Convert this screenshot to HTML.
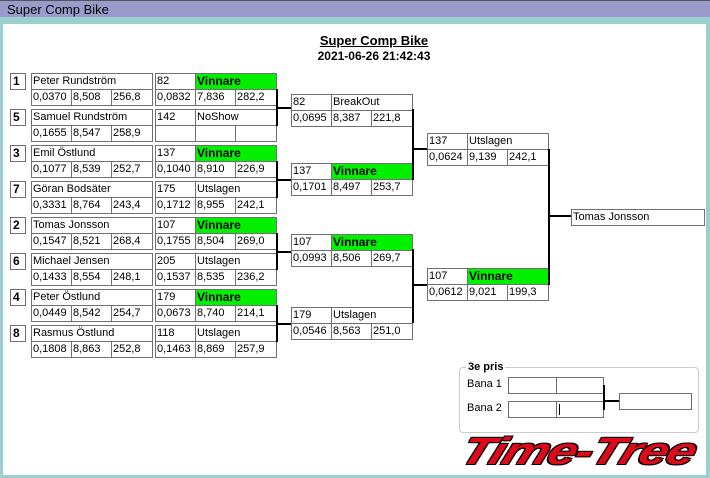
<!DOCTYPE html>
<html><head><meta charset="utf-8"><style>
*{margin:0;padding:0;box-sizing:border-box}
body{width:710px;height:478px;overflow:hidden;background:#9ccfcf;font-family:"Liberation Sans","DejaVu Sans",sans-serif;font-size:11px;position:relative}
.tb{position:absolute;left:0;top:0;width:710px;height:17px;background:#9b9bcb;border-top:1px solid #555;}
.tb span{position:absolute;left:7px;top:1px;font-size:13px;color:#000}
.win{position:absolute;left:3px;top:24px;width:703px;height:451px;background:#fff}
.c{position:absolute;border:1px solid #707070;height:17px;line-height:15px;padding-left:1px;white-space:nowrap;overflow:hidden;background:#fff}
.s{font-weight:bold;font-size:12px;padding-left:2px}
.g{background:#00f000;font-weight:bold;font-size:12px}
.l{position:absolute;background:#000}
</style></head><body>
<div class="tb"><span>Super Comp Bike</span></div>
<div class="win"></div>
<div style="position:absolute;left:274px;width:200px;top:33px;text-align:center;font-weight:bold;font-size:13px;text-decoration:underline">Super Comp Bike</div>
<div style="position:absolute;left:274px;width:200px;top:49px;text-align:center;font-weight:bold;font-size:12px">2021-06-26 21:42:43</div>

<div class="c s" style="left:10px;top:73px;width:16px">1</div>
<div class="c" style="left:31px;top:73px;width:122px">Peter Rundström</div>
<div class="c" style="left:31px;top:89px;width:41px">0,0370</div><div class="c" style="left:71px;top:89px;width:41px">8,508</div><div class="c" style="left:111px;top:89px;width:42px">256,8</div>
<div class="c s" style="left:10px;top:109px;width:16px">5</div>
<div class="c" style="left:31px;top:109px;width:122px">Samuel Rundström</div>
<div class="c" style="left:31px;top:125px;width:41px">0,1655</div><div class="c" style="left:71px;top:125px;width:41px">8,547</div><div class="c" style="left:111px;top:125px;width:42px">258,9</div>
<div class="c s" style="left:10px;top:145px;width:16px">3</div>
<div class="c" style="left:31px;top:145px;width:122px">Emil Östlund</div>
<div class="c" style="left:31px;top:161px;width:41px">0,1077</div><div class="c" style="left:71px;top:161px;width:41px">8,539</div><div class="c" style="left:111px;top:161px;width:42px">252,7</div>
<div class="c s" style="left:10px;top:181px;width:16px">7</div>
<div class="c" style="left:31px;top:181px;width:122px">Göran Bodsäter</div>
<div class="c" style="left:31px;top:197px;width:41px">0,3331</div><div class="c" style="left:71px;top:197px;width:41px">8,764</div><div class="c" style="left:111px;top:197px;width:42px">243,4</div>
<div class="c s" style="left:10px;top:217px;width:16px">2</div>
<div class="c" style="left:31px;top:217px;width:122px">Tomas Jonsson</div>
<div class="c" style="left:31px;top:233px;width:41px">0,1547</div><div class="c" style="left:71px;top:233px;width:41px">8,521</div><div class="c" style="left:111px;top:233px;width:42px">268,4</div>
<div class="c s" style="left:10px;top:253px;width:16px">6</div>
<div class="c" style="left:31px;top:253px;width:122px">Michael Jensen</div>
<div class="c" style="left:31px;top:269px;width:41px">0,1433</div><div class="c" style="left:71px;top:269px;width:41px">8,554</div><div class="c" style="left:111px;top:269px;width:42px">248,1</div>
<div class="c s" style="left:10px;top:289px;width:16px">4</div>
<div class="c" style="left:31px;top:289px;width:122px">Peter Östlund</div>
<div class="c" style="left:31px;top:305px;width:41px">0,0449</div><div class="c" style="left:71px;top:305px;width:41px">8,542</div><div class="c" style="left:111px;top:305px;width:42px">254,7</div>
<div class="c s" style="left:10px;top:325px;width:16px">8</div>
<div class="c" style="left:31px;top:325px;width:122px">Rasmus Östlund</div>
<div class="c" style="left:31px;top:341px;width:41px">0,1808</div><div class="c" style="left:71px;top:341px;width:41px">8,863</div><div class="c" style="left:111px;top:341px;width:42px">252,8</div>

<div class="c" style="left:155px;top:73px;width:41px">82</div><div class="c g" style="left:195px;top:73px;width:82px">Vinnare</div>
<div class="c" style="left:155px;top:89px;width:41px">0,0832</div><div class="c" style="left:195px;top:89px;width:41px">7,836</div><div class="c" style="left:235px;top:89px;width:42px">282,2</div>
<div class="c" style="left:155px;top:109px;width:41px">142</div><div class="c" style="left:195px;top:109px;width:82px">NoShow</div>
<div class="c" style="left:155px;top:125px;width:41px"></div><div class="c" style="left:195px;top:125px;width:41px"></div><div class="c" style="left:235px;top:125px;width:42px"></div>
<div class="c" style="left:155px;top:145px;width:41px">137</div><div class="c g" style="left:195px;top:145px;width:82px">Vinnare</div>
<div class="c" style="left:155px;top:161px;width:41px">0,1040</div><div class="c" style="left:195px;top:161px;width:41px">8,910</div><div class="c" style="left:235px;top:161px;width:42px">226,9</div>
<div class="c" style="left:155px;top:181px;width:41px">175</div><div class="c" style="left:195px;top:181px;width:82px">Utslagen</div>
<div class="c" style="left:155px;top:197px;width:41px">0,1712</div><div class="c" style="left:195px;top:197px;width:41px">8,955</div><div class="c" style="left:235px;top:197px;width:42px">242,1</div>
<div class="c" style="left:155px;top:217px;width:41px">107</div><div class="c g" style="left:195px;top:217px;width:82px">Vinnare</div>
<div class="c" style="left:155px;top:233px;width:41px">0,1755</div><div class="c" style="left:195px;top:233px;width:41px">8,504</div><div class="c" style="left:235px;top:233px;width:42px">269,0</div>
<div class="c" style="left:155px;top:253px;width:41px">205</div><div class="c" style="left:195px;top:253px;width:82px">Utslagen</div>
<div class="c" style="left:155px;top:269px;width:41px">0,1537</div><div class="c" style="left:195px;top:269px;width:41px">8,535</div><div class="c" style="left:235px;top:269px;width:42px">236,2</div>
<div class="c" style="left:155px;top:289px;width:41px">179</div><div class="c g" style="left:195px;top:289px;width:82px">Vinnare</div>
<div class="c" style="left:155px;top:305px;width:41px">0,0673</div><div class="c" style="left:195px;top:305px;width:41px">8,740</div><div class="c" style="left:235px;top:305px;width:42px">214,1</div>
<div class="c" style="left:155px;top:325px;width:41px">118</div><div class="c" style="left:195px;top:325px;width:82px">Utslagen</div>
<div class="c" style="left:155px;top:341px;width:41px">0,1463</div><div class="c" style="left:195px;top:341px;width:41px">8,869</div><div class="c" style="left:235px;top:341px;width:42px">257,9</div>

<div class="l" style="left:276px;top:89px;width:2px;height:37px"></div><div class="l" style="left:276px;top:107px;width:15px;height:2px"></div>
<div class="l" style="left:276px;top:161px;width:2px;height:37px"></div><div class="l" style="left:276px;top:179px;width:15px;height:2px"></div>
<div class="l" style="left:276px;top:233px;width:2px;height:37px"></div><div class="l" style="left:276px;top:251px;width:15px;height:2px"></div>
<div class="l" style="left:276px;top:305px;width:2px;height:37px"></div><div class="l" style="left:276px;top:323px;width:15px;height:2px"></div>

<div class="c" style="left:291px;top:94px;width:41px">82</div><div class="c" style="left:331px;top:94px;width:82px">BreakOut</div>
<div class="c" style="left:291px;top:110px;width:41px">0,0695</div><div class="c" style="left:331px;top:110px;width:41px">8,387</div><div class="c" style="left:371px;top:110px;width:42px">221,8</div>
<div class="c" style="left:291px;top:163px;width:41px">137</div><div class="c g" style="left:331px;top:163px;width:82px">Vinnare</div>
<div class="c" style="left:291px;top:179px;width:41px">0,1701</div><div class="c" style="left:331px;top:179px;width:41px">8,497</div><div class="c" style="left:371px;top:179px;width:42px">253,7</div>
<div class="c" style="left:291px;top:234px;width:41px">107</div><div class="c g" style="left:331px;top:234px;width:82px">Vinnare</div>
<div class="c" style="left:291px;top:250px;width:41px">0,0993</div><div class="c" style="left:331px;top:250px;width:41px">8,506</div><div class="c" style="left:371px;top:250px;width:42px">269,7</div>
<div class="c" style="left:291px;top:307px;width:41px">179</div><div class="c" style="left:331px;top:307px;width:82px">Utslagen</div>
<div class="c" style="left:291px;top:323px;width:41px">0,0546</div><div class="c" style="left:331px;top:323px;width:41px">8,563</div><div class="c" style="left:371px;top:323px;width:42px">251,0</div>

<div class="l" style="left:412px;top:109px;width:2px;height:71px"></div><div class="l" style="left:412px;top:148px;width:15px;height:2px"></div>
<div class="l" style="left:412px;top:249px;width:2px;height:74px"></div><div class="l" style="left:412px;top:284px;width:15px;height:2px"></div>

<div class="c" style="left:427px;top:133px;width:41px">137</div><div class="c" style="left:467px;top:133px;width:82px">Utslagen</div>
<div class="c" style="left:427px;top:149px;width:41px">0,0624</div><div class="c" style="left:467px;top:149px;width:41px">9,139</div><div class="c" style="left:507px;top:149px;width:42px">242,1</div>
<div class="c" style="left:427px;top:268px;width:41px">107</div><div class="c g" style="left:467px;top:268px;width:82px">Vinnare</div>
<div class="c" style="left:427px;top:284px;width:41px">0,0612</div><div class="c" style="left:467px;top:284px;width:41px">9,021</div><div class="c" style="left:507px;top:284px;width:42px">199,3</div>

<div class="l" style="left:548px;top:149px;width:2px;height:136px"></div><div class="l" style="left:548px;top:215px;width:23px;height:2px"></div>
<div class="c" style="left:571px;top:209px;width:134px">Tomas Jonsson</div>

<div style="position:absolute;left:459px;top:367px;width:240px;height:66px;border:1px solid #ccc;border-radius:4px"></div>
<div style="position:absolute;left:466px;top:361px;background:#fff;padding:0 2px;font-weight:bold;font-size:11px">3e pris</div>
<div style="position:absolute;left:467px;top:378px">Bana 1</div>
<div style="position:absolute;left:467px;top:402px">Bana 2</div>
<div class="c" style="left:508px;top:377px;width:49px"></div><div class="c" style="left:556px;top:377px;width:48px"></div>
<div class="c" style="left:508px;top:401px;width:49px"></div><div class="c" style="left:556px;top:401px;width:48px"><span style="display:inline-block;width:1px;height:11px;background:#000;margin-top:2px;margin-left:1px"></span></div>
<div class="l" style="left:603px;top:385px;width:2px;height:25px"></div><div class="l" style="left:603px;top:400px;width:16px;height:2px"></div>
<div class="c" style="left:619px;top:393px;width:73px"></div>

<div style="position:absolute;left:462px;top:432px;font-size:38px;font-weight:bold;font-style:italic;color:#dd0a1c;letter-spacing:-1px;transform-origin:0 50%;transform:scaleX(1.36) skewX(-15deg);text-shadow:1px 1px 0 #000,-1px -1px 0 #000,1px -1px 0 #000,-1px 1px 0 #000;line-height:40px;white-space:nowrap">Time-Tree</div>
</body></html>
